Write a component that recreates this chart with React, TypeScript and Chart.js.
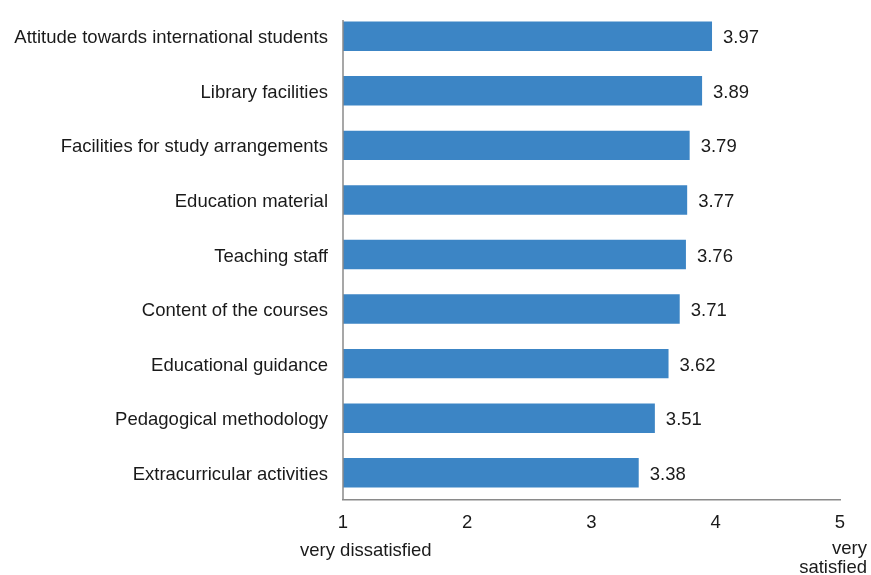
import React, { useEffect, useRef } from "react";
import { Chart, registerables } from "chart.js";

Chart.register(...registerables);

const categories = [
  "Attitude towards international students",
  "Library facilities",
  "Facilities for study arrangements",
  "Education material",
  "Teaching staff",
  "Content of the courses",
  "Educational guidance",
  "Pedagogical methodology",
  "Extracurricular activities",
];
const values = [3.97, 3.89, 3.79, 3.77, 3.76, 3.71, 3.62, 3.51, 3.38];
const xTicks = [1, 2, 3, 4, 5];
const lowLabel = "very dissatisfied";
const highLabel = ["very", "satisfied"];

const FONT = "'Liberation Sans', Arial, sans-serif";
const FS = 18.5;
const TEXT = "#1a1a1a";
const AXIS = "#8a8a8a";

const labelPlugin = {
  id: "valueLabels",
  afterDatasetsDraw(chart: any) {
    const ctx = chart.ctx;
    const meta = chart.getDatasetMeta(0);
    const area = chart.chartArea;
    ctx.save();
    // vertical axis line (starts slightly below plot top, as in reference)
    ctx.strokeStyle = AXIS;
    ctx.lineWidth = 1.5;
    ctx.beginPath();
    ctx.moveTo(area.left, area.top + 11);
    ctx.lineTo(area.left, area.bottom);
    ctx.stroke();

    ctx.font = `${FS}px ${FONT}`;
    ctx.fillStyle = TEXT;
    ctx.textAlign = "left";
    ctx.textBaseline = "middle";
    meta.data.forEach((bar: any, i: number) => {
      ctx.fillText(values[i].toFixed(2), bar.x + 11, bar.y + 2);
    });
    const xs = chart.scales.x;
    const p1 = xs.getPixelForValue(xTicks[0]);
    const p5 = xs.getPixelForValue(xTicks[xTicks.length - 1]);
    ctx.fillText(lowLabel, p1 - 43, 551);
    ctx.textAlign = "right";
    ctx.fillText(highLabel[0], p5 + 27, 549);
    ctx.fillText(highLabel[1], p5 + 27, 568);
    ctx.restore();
  },
};

export default function App() {
  const ref = useRef<HTMLCanvasElement>(null);
  useEffect(() => {
    const chart = new Chart(ref.current!, {
      type: "bar",
      data: {
        labels: categories,
        datasets: [
          {
            data: values,
            base: 1,
            backgroundColor: "#3c85c5",
            borderWidth: 0,
            barPercentage: 0.54,
            categoryPercentage: 1,
          } as any,
        ],
      },
      options: {
        indexAxis: "y",
        animation: false,
        responsive: false,
        layout: { padding: { top: 9, right: 31, left: 0, bottom: 0 } },
        plugins: { legend: { display: false }, tooltip: { enabled: false } },
        scales: {
          x: {
            min: 1,
            max: 5,
            afterFit: (s: any) => {
              s.height = 75;
              s.paddingLeft = 0;
              s.paddingRight = 0;
            },
            afterBuildTicks: (s: any) => {
              s.ticks = xTicks.map((v) => ({ value: v }));
            },
            grid: { display: false, drawTicks: false },
            border: { display: true, color: AXIS, width: 1.5 },
            ticks: {
              color: TEXT,
              font: { family: FONT, size: FS },
              padding: 12,
              maxRotation: 0,
            },
          },
          y: {
            afterFit: (s: any) => {
              s.width = 343;
              s.paddingTop = 0;
              s.paddingBottom = 0;
            },
            grid: { display: false, drawTicks: false },
            border: { display: false },
            ticks: {
              color: TEXT,
              font: { family: FONT, size: FS },
              padding: 15,
              labelOffset: 2,
            },
          },
        },
      },
      plugins: [labelPlugin],
    });
    return () => chart.destroy();
  }, []);
  return (
    <canvas
      ref={ref}
      width={871}
      height={575}
      style={{ position: "absolute", left: 0, top: 0, width: 871, height: 575 }}
    />
  );
}
